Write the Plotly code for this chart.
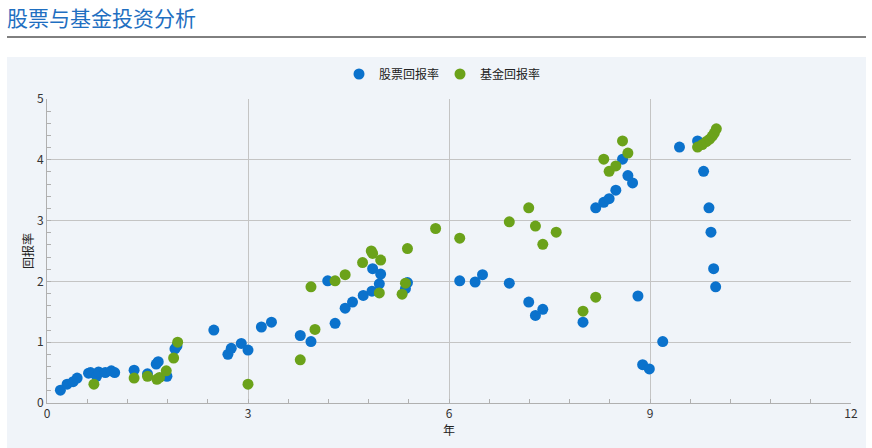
import plotly.graph_objects as go

stock_x = [0.20, 0.30, 0.39, 0.45, 0.62, 0.65, 0.74, 0.77, 0.87, 0.96, 1.01, 1.30, 1.50, 1.63, 1.66, 1.79,
           1.91, 1.94, 2.49, 2.70, 2.75, 2.90, 3.00, 3.20, 3.35, 3.78, 3.94, 4.19, 4.30, 4.45, 4.56, 4.72,
           4.85, 4.86, 4.98, 4.96, 5.35, 5.38, 6.16, 6.39, 6.50, 6.90, 7.19, 7.29, 7.40, 8.00, 8.19, 8.31,
           8.39, 8.49, 8.59, 8.67, 8.74, 8.82, 8.89, 8.99, 9.19, 9.44, 9.71, 9.80, 9.88, 9.91, 9.95, 9.98]
stock_y = [0.21, 0.31, 0.35, 0.41, 0.49, 0.50, 0.44, 0.51, 0.50, 0.53, 0.50, 0.54, 0.48, 0.64, 0.68, 0.44,
           0.89, 0.94, 1.20, 0.80, 0.90, 0.98, 0.87, 1.25, 1.33, 1.11, 1.01, 2.01, 1.31, 1.56, 1.66, 1.77,
           1.84, 2.21, 2.12, 1.96, 1.88, 1.98, 2.01, 1.99, 2.11, 1.97, 1.66, 1.44, 1.54, 1.33, 3.21, 3.30,
           3.36, 3.50, 4.01, 3.74, 3.62, 1.76, 0.63, 0.56, 1.01, 4.21, 4.31, 3.81, 3.21, 2.81, 2.21, 1.91]

fund_x = [0.70, 1.30, 1.50, 1.64, 1.68, 1.78, 1.89, 1.95, 3.00, 3.78, 3.94, 4.00, 4.30, 4.45, 4.71, 4.84,
          4.86, 4.98, 4.96, 5.30, 5.35, 5.38, 5.80, 6.16, 6.90, 7.19, 7.29, 7.40, 7.60, 8.00, 8.19, 8.31,
          8.39, 8.49, 8.59, 8.67, 9.71, 9.78, 9.84, 9.89, 9.93, 9.96, 9.99]
fund_y = [0.31, 0.41, 0.44, 0.39, 0.42, 0.53, 0.74, 1.00, 0.31, 0.71, 1.91, 1.21, 2.01, 2.11, 2.31, 2.50,
          2.46, 2.35, 1.81, 1.79, 1.97, 2.54, 2.87, 2.71, 2.98, 3.21, 2.91, 2.61, 2.81, 1.51, 1.74, 4.01,
          3.81, 3.90, 4.31, 4.11, 4.21, 4.25, 4.30, 4.34, 4.39, 4.44, 4.51]

x_ticks = [0, 3, 6, 9, 12]
y_ticks = [0, 1, 2, 3, 4, 5]

FONT = "Noto Sans CJK SC"
BLUE = "#0b72cc"
GREEN = "#6ba21a"
PANEL = "#f0f4f9"

W, H = 872, 448
L, R, T, B = 47, 21, 99, 45
PW, PH = W - L - R, H - T - B


def px(fx):
    return (fx - L) / PW


def py(fy):
    return (H - B - fy) / PH


fig = go.Figure()
fig.add_trace(go.Scatter(x=stock_x, y=stock_y, mode="markers", name="股票回报率",
                         marker=dict(color=BLUE, size=11, line=dict(width=0))))
fig.add_trace(go.Scatter(x=fund_x, y=fund_y, mode="markers", name="基金回报率",
                         marker=dict(color=GREEN, size=11, line=dict(width=0))))

fig.update_layout(
    width=W, height=H,
    margin=dict(l=L, r=R, t=T, b=B),
    paper_bgcolor="white",
    plot_bgcolor=PANEL,
    font=dict(family=FONT, size=12, color="#333333"),
    showlegend=True,
    legend=dict(orientation="h", x=px(440), xanchor="center", y=py(74), yanchor="middle",
                font=dict(family=FONT, size=12, color="#222222"),
                entrywidth=56, entrywidthmode="pixels",
                bgcolor="rgba(0,0,0,0)"),
    shapes=[
        dict(type="rect", xref="paper", yref="paper", x0=px(7), x1=px(866),
             y0=py(448), y1=py(57), fillcolor=PANEL, line=dict(width=0), layer="below"),
        dict(type="line", xref="paper", yref="paper", x0=px(7), x1=px(866),
             y0=py(37), y1=py(37), line=dict(color="black", width=1)),
    ],
    annotations=[
        dict(text="股票与基金投资分析", xref="paper", yref="paper", x=px(6), xanchor="left",
             y=py(17), yanchor="middle", showarrow=False, borderpad=0,
             font=dict(family=FONT, size=21, color="#1f6fc1")),
    ],
)

fig.update_xaxes(range=[0, 12], tickvals=x_ticks, showgrid=True, gridcolor="#c4c4c4", gridwidth=1,
                 showline=True, linecolor="#b0b0b0", linewidth=1, zeroline=False,
                 ticks="inside", ticklen=4, tickcolor="#b0b0b0",
                 minor=dict(dtick=0.6, ticks="inside", ticklen=4, tickcolor="#b0b0b0", showgrid=False),
                 title=dict(text="年", font=dict(family=FONT, size=12, color="#222222"), standoff=4),
                 tickfont=dict(family=FONT, size=12, color="#333333"))
fig.update_yaxes(range=[0, 5], tickvals=y_ticks, showgrid=True, gridcolor="#c4c4c4", gridwidth=1,
                 showline=True, linecolor="#b0b0b0", linewidth=1, zeroline=False,
                 ticks="inside", ticklen=4, tickcolor="#b0b0b0",
                 minor=dict(dtick=0.2, ticks="inside", ticklen=4, tickcolor="#b0b0b0", showgrid=False),
                 title=dict(text="回报率", font=dict(family=FONT, size=12, color="#222222"), standoff=0),
                 tickfont=dict(family=FONT, size=12, color="#333333"))

fig.write_html("out.html", config={"displayModeBar": False},
               post_script="document.body.style.margin='0px';")
